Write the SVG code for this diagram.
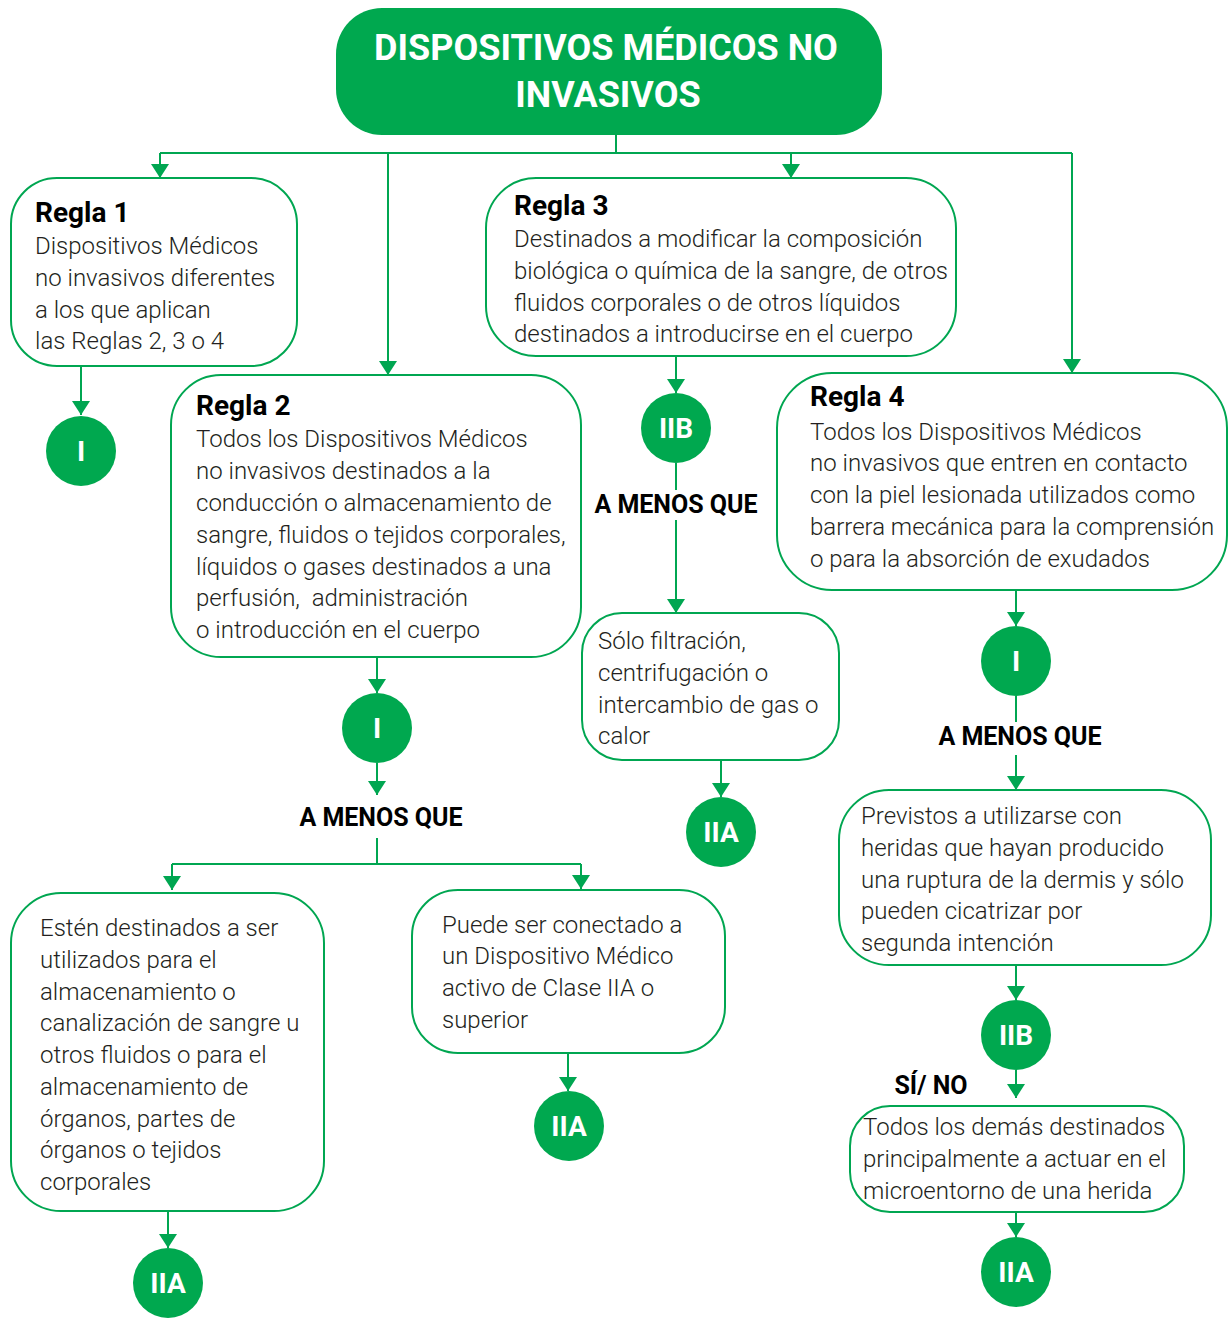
<svg xmlns="http://www.w3.org/2000/svg" width="1232" height="1318" viewBox="0 0 1232 1318">
<defs>
<marker id="ah" viewBox="0 0 14 18" refX="14" refY="9" markerWidth="14" markerHeight="18" markerUnits="userSpaceOnUse" orient="auto">
<path d="M0,0 L14,9 L0,18 Z" fill="#00a651"/>
</marker>
<style>
.box{fill:#fff;stroke:#00a651;stroke-width:2}
.ln{fill:none;stroke:#00a651;stroke-width:2}
.arr{fill:none;stroke:#00a651;stroke-width:2;marker-end:url(#ah)}
.t{font-family:Roboto,"Liberation Sans",sans-serif;font-weight:300;font-size:24px;fill:#231f20}
.h{font-family:Roboto,"Liberation Sans",sans-serif;font-weight:700;font-size:28px;fill:#000}
.lbl{font-family:Roboto,"Liberation Sans",sans-serif;font-weight:700;font-size:25px;fill:#000;text-anchor:middle}
.c{fill:#00a84f}
.ct{font-family:Roboto,"Liberation Sans",sans-serif;font-weight:700;font-size:28px;fill:#fff;text-anchor:middle}
.title{font-family:Roboto,"Liberation Sans",sans-serif;font-weight:700;font-size:36px;fill:#fff;text-anchor:middle}
</style>
</defs>
<rect width="1232" height="1318" fill="#fff"/>

<g id="connectors">
<path class="ln" d="M616,135 V153 M160,153 H1072"/>
<path class="arr" d="M160,153 V178"/>
<path class="arr" d="M388,153 V375"/>
<path class="arr" d="M791,153 V178"/>
<path class="arr" d="M1072,153 V373"/>
<path class="arr" d="M81,366 V415"/>
<path class="arr" d="M377,657 V693"/>
<path class="arr" d="M377,763 V795"/>
<path class="ln" d="M377,838 V864 M172,864 H581"/>
<path class="arr" d="M172,864 V890"/>
<path class="arr" d="M581,864 V889"/>
<path class="arr" d="M168,1211 V1248"/>
<path class="arr" d="M568,1053 V1091"/>
<path class="arr" d="M676,356 V393"/>
<path class="ln" d="M676,463 V490"/>
<path class="arr" d="M676,520 V613"/>
<path class="arr" d="M721,760 V797"/>
<path class="arr" d="M1016,590 V626"/>
<path class="ln" d="M1016,696 V722"/>
<path class="arr" d="M1016,755 V790"/>
<path class="arr" d="M1016,965 V1000"/>
<path class="arr" d="M1016,1070 V1098"/>
<path class="arr" d="M1016,1212 V1237"/>
</g>

<g id="title">
<rect x="336" y="8" width="546" height="127" rx="46" fill="#00a84f"/>
<text class="title" x="606" y="60">DISPOSITIVOS MÉDICOS NO</text>
<text class="title" x="608" y="107">INVASIVOS</text>
</g>

<g id="regla1">
<rect class="box" x="11" y="178" width="286" height="188" rx="46"/>
<text class="h" x="35" y="222">Regla 1</text>
<text class="t" x="35" y="254">Dispositivos Médicos</text>
<text class="t" x="35" y="286">no invasivos diferentes</text>
<text class="t" x="35" y="318">a los que aplican</text>
<text class="t" x="35" y="349">las Reglas 2, 3 o 4</text>
</g>
<g id="r1-I"><circle class="c" cx="81" cy="451" r="35"/><text class="ct" x="81" y="461">I</text></g>

<g id="regla2">
<rect class="box" x="171" y="375" width="410" height="282" rx="50"/>
<text class="h" x="196" y="415">Regla 2</text>
<text class="t" x="196" y="447">Todos los Dispositivos Médicos</text>
<text class="t" x="196" y="479">no invasivos destinados a la</text>
<text class="t" x="196" y="511">conducción o almacenamiento de</text>
<text class="t" x="196" y="543">sangre, fluidos o tejidos corporales,</text>
<text class="t" x="196" y="575">líquidos o gases destinados a una</text>
<text class="t" x="196" y="606" xml:space="preserve">perfusión,  administración</text>
<text class="t" x="196" y="638">o introducción en el cuerpo</text>
</g>
<g id="r2-I"><circle class="c" cx="377" cy="728" r="35"/><text class="ct" x="377" y="738">I</text></g>
<text class="lbl" x="381" y="826">A MENOS QUE</text>

<g id="r2-a">
<rect class="box" x="11" y="893" width="313" height="318" rx="50"/>
<text class="t" x="40" y="936">Estén destinados a ser</text>
<text class="t" x="40" y="968">utilizados para el</text>
<text class="t" x="40" y="1000">almacenamiento o</text>
<text class="t" x="40" y="1031">canalización de sangre u</text>
<text class="t" x="40" y="1063">otros fluidos o para el</text>
<text class="t" x="40" y="1095">almacenamiento de</text>
<text class="t" x="40" y="1127">órganos, partes de</text>
<text class="t" x="40" y="1158">órganos o tejidos</text>
<text class="t" x="40" y="1190">corporales</text>
</g>
<g id="r2a-IIA"><circle class="c" cx="168" cy="1283" r="35"/><text class="ct" x="168" y="1293">IIA</text></g>

<g id="r2-b">
<rect class="box" x="412" y="890" width="313" height="163" rx="46"/>
<text class="t" x="442" y="933">Puede ser conectado a</text>
<text class="t" x="442" y="964">un Dispositivo Médico</text>
<text class="t" x="442" y="996">activo de Clase IIA o</text>
<text class="t" x="442" y="1028">superior</text>
</g>
<g id="r2b-IIA"><circle class="c" cx="569" cy="1126" r="35"/><text class="ct" x="569" y="1136">IIA</text></g>

<g id="regla3">
<rect class="box" x="486" y="178" width="470" height="178" rx="50"/>
<text class="h" x="514" y="215">Regla 3</text>
<text class="t" x="514" y="247">Destinados a modificar la composición</text>
<text class="t" x="514" y="279">biológica o química de la sangre, de otros</text>
<text class="t" x="514" y="311">fluidos corporales o de otros líquidos</text>
<text class="t" x="514" y="342">destinados a introducirse en el cuerpo</text>
</g>
<g id="r3-IIB"><circle class="c" cx="676" cy="428" r="35"/><text class="ct" x="676" y="438">IIB</text></g>
<text class="lbl" x="676" y="513">A MENOS QUE</text>

<g id="r3-a">
<rect class="box" x="582" y="613" width="257" height="147" rx="40"/>
<text class="t" x="598" y="649">Sólo filtración,</text>
<text class="t" x="598" y="681">centrifugación o</text>
<text class="t" x="598" y="713">intercambio de gas o</text>
<text class="t" x="598" y="744">calor</text>
</g>
<g id="r3a-IIA"><circle class="c" cx="721" cy="832" r="35"/><text class="ct" x="721" y="842">IIA</text></g>

<g id="regla4">
<rect class="box" x="777" y="373" width="450" height="217" rx="55"/>
<text class="h" x="810" y="406">Regla 4</text>
<text class="t" x="810" y="440">Todos los Dispositivos Médicos</text>
<text class="t" x="810" y="471">no invasivos que entren en contacto</text>
<text class="t" x="810" y="503">con la piel lesionada utilizados como</text>
<text class="t" x="810" y="535">barrera mecánica para la comprensión</text>
<text class="t" x="810" y="567">o para la absorción de exudados</text>
</g>
<g id="r4-I"><circle class="c" cx="1016" cy="661" r="35"/><text class="ct" x="1016" y="671">I</text></g>
<text class="lbl" x="1020" y="745">A MENOS QUE</text>

<g id="r4-a">
<rect class="box" x="839" y="790" width="372" height="175" rx="50"/>
<text class="t" x="861" y="824">Previstos a utilizarse con</text>
<text class="t" x="861" y="856">heridas que hayan producido</text>
<text class="t" x="861" y="888">una ruptura de la dermis y sólo</text>
<text class="t" x="861" y="919">pueden cicatrizar por</text>
<text class="t" x="861" y="951">segunda intención</text>
</g>
<g id="r4a-IIB"><circle class="c" cx="1016" cy="1035" r="35"/><text class="ct" x="1016" y="1045">IIB</text></g>
<text class="lbl" x="931" y="1094">SÍ/ NO</text>

<g id="r4-b">
<rect class="box" x="850" y="1106" width="334" height="106" rx="40"/>
<text class="t" x="863" y="1135">Todos los demás destinados</text>
<text class="t" x="863" y="1167">principalmente a actuar en el</text>
<text class="t" x="863" y="1199">microentorno de una herida</text>
</g>
<g id="r4b-IIA"><circle class="c" cx="1016" cy="1272" r="35"/><text class="ct" x="1016" y="1282">IIA</text></g>
</svg>
